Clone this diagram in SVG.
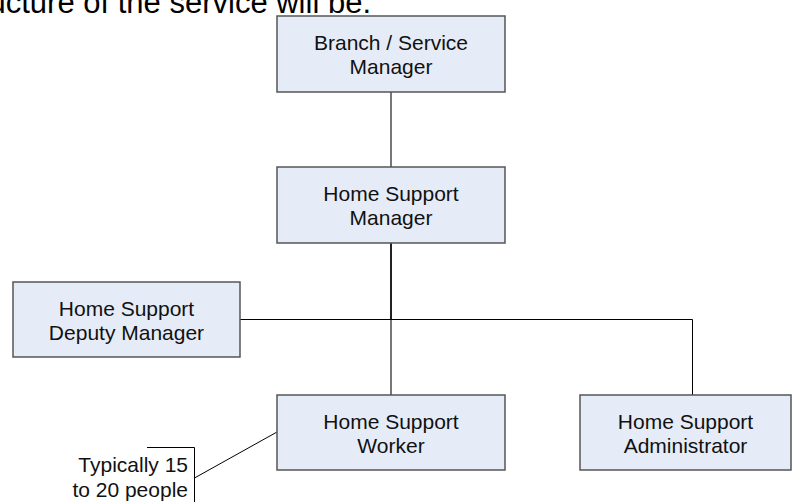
<svg xmlns="http://www.w3.org/2000/svg" width="793" height="502" viewBox="0 0 793 502">
<style>
.box{fill:#E6ECF7;stroke:#555;stroke-width:1.5}
.t{font-family:"Liberation Sans",Arial,sans-serif;font-size:21px;fill:#111;text-anchor:middle}
.tc{font-family:"Liberation Sans",Arial,sans-serif;font-size:21px;fill:#111;text-anchor:end}
.title{font-family:"Liberation Sans",Arial,sans-serif;font-size:31px;fill:#000;text-anchor:end}
.blk{stroke:#000;stroke-width:1;fill:none}
.gry{stroke:#777;stroke-width:2;fill:none}
</style>
<rect width="793" height="502" fill="#fff"/>
<text class="title" x="371" y="13">structure of the service will be.</text>
<g id="connectors">
<line class="gry" x1="391" y1="92" x2="391" y2="167"/>
<line stroke="#222" stroke-width="2" x1="391" y1="243" x2="391" y2="319"/>
<line class="gry" x1="391" y1="319" x2="391" y2="395"/>
<line class="blk" x1="240" y1="319.5" x2="692.5" y2="319.5"/>
<line class="blk" x1="692.5" y1="319.5" x2="692.5" y2="395"/>
<path class="blk" d="M147 447.5 H194.5 V502"/>
<line class="blk" x1="194.5" y1="478" x2="277" y2="432"/>
</g>
<g id="branch-manager">
<rect class="box" x="277" y="16" width="228" height="76"/>
<text class="t" x="391" y="50">Branch / Service</text>
<text class="t" x="391" y="74">Manager</text>
</g>
<g id="home-support-manager">
<rect class="box" x="277" y="167" width="228" height="76"/>
<text class="t" x="391" y="201">Home Support</text>
<text class="t" x="391" y="225">Manager</text>
</g>
<g id="deputy-manager">
<rect class="box" x="13" y="282" width="227" height="75"/>
<text class="t" x="126.5" y="315.5">Home Support</text>
<text class="t" x="126.5" y="339.5">Deputy Manager</text>
</g>
<g id="worker">
<rect class="box" x="277" y="395" width="228" height="75"/>
<text class="t" x="391" y="428.5">Home Support</text>
<text class="t" x="391" y="452.5">Worker</text>
</g>
<g id="administrator">
<rect class="box" x="580" y="395" width="211" height="75"/>
<text class="t" x="685.5" y="428.5">Home Support</text>
<text class="t" x="685.5" y="452.5">Administrator</text>
</g>
<g id="callout">
<text class="tc" x="188" y="472">Typically 15</text>
<text class="tc" x="188" y="497">to 20 people</text>
</g>
</svg>
